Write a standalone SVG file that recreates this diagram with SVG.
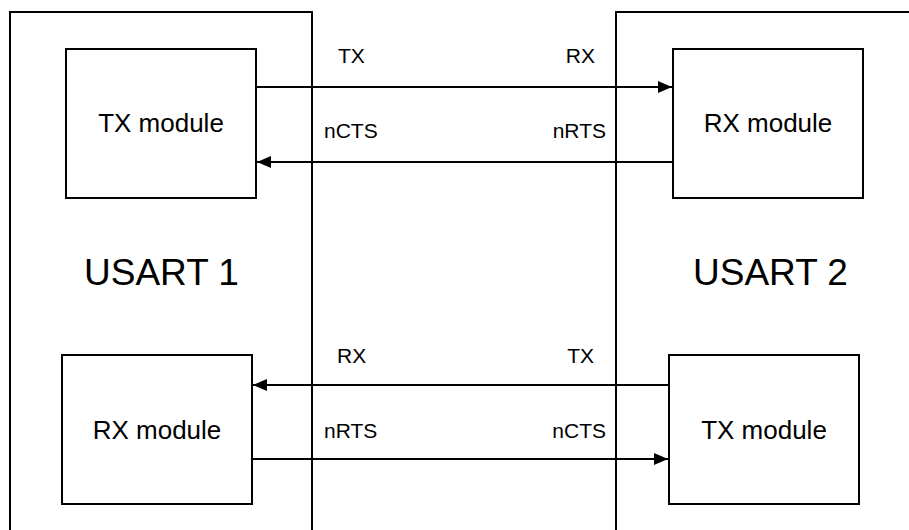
<svg xmlns="http://www.w3.org/2000/svg" width="909" height="530" viewBox="0 0 909 530">
<style>
.box{fill:none;stroke:#000;stroke-width:2}
.mod{fill:#fff;stroke:#000;stroke-width:2}
.ln{fill:none;stroke:#000;stroke-width:2}
text{font-family:"Liberation Sans",Arial,sans-serif;fill:#000}
.big{font-size:37px}
.mt{font-size:26px;text-anchor:middle}
.lb{font-size:21px}
.end{text-anchor:end}
</style>
<defs>
<marker id="ah" markerUnits="userSpaceOnUse" markerWidth="14" markerHeight="14" viewBox="0 0 14 12" refX="14" refY="6" orient="auto">
<path d="M0,0 L14,6 L0,12 Z" fill="#000"/>
</marker>
</defs>
<rect width="909" height="530" fill="#fff"/>
<g id="usart1">
<path class="box" d="M10,540 V12 H312 V540"/>
<text class="big" x="84" y="285">USART 1</text>
</g>
<g id="usart2">
<path class="box" d="M616,540 V12 H920"/>
<text class="big" x="693" y="285">USART 2</text>
</g>
<g id="tx1">
<rect class="mod" x="66" y="49" width="190" height="149"/>
<text class="mt" x="161" y="132">TX module</text>
</g>
<g id="rx2">
<rect class="mod" x="673" y="49" width="190" height="149"/>
<text class="mt" x="768" y="132">RX module</text>
</g>
<g id="rx1">
<rect class="mod" x="62" y="355" width="190" height="149"/>
<text class="mt" x="157" y="439">RX module</text>
</g>
<g id="tx2">
<rect class="mod" x="669" y="355" width="190" height="149"/>
<text class="mt" x="764" y="439">TX module</text>
</g>
<g id="connectors">
<line class="ln" x1="256" y1="87" x2="672" y2="87" marker-end="url(#ah)"/>
<line class="ln" x1="673" y1="162" x2="257" y2="162" marker-end="url(#ah)"/>
<line class="ln" x1="669" y1="385" x2="253" y2="385" marker-end="url(#ah)"/>
<line class="ln" x1="252" y1="459" x2="668" y2="459" marker-end="url(#ah)"/>
<text class="lb" x="338" y="63">TX</text>
<text class="lb end" x="595" y="63">RX</text>
<text class="lb" x="324" y="138">nCTS</text>
<text class="lb end" x="606" y="138">nRTS</text>
<text class="lb" x="337" y="363">RX</text>
<text class="lb end" x="594" y="363">TX</text>
<text class="lb" x="324" y="438">nRTS</text>
<text class="lb end" x="606" y="438">nCTS</text>
</g>
</svg>
